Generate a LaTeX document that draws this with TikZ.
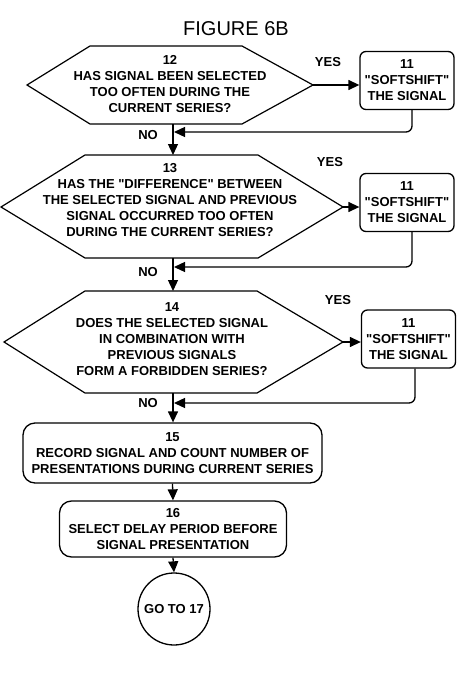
\documentclass[tikz,border=0pt]{standalone}
\usepackage{fontspec}
\setmainfont{Liberation Sans}[Ligatures=TeXOff]
\usetikzlibrary{arrows.meta}
\begin{document}
\begin{tikzpicture}[x=1pt,y=-1pt,
  line width=1.3pt,
  txt/.style={font=\fontsize{13}{16}\selectfont\bfseries, align=center, inner sep=0pt},
  lbl/.style={font=\fontsize{13}{16}\selectfont\bfseries, inner sep=0pt},
  hexline/.style={draw, line width=1.2pt, line join=miter},
  softbox/.style={draw, rounded corners=6pt, minimum width=94pt, minimum height=58pt, inner sep=0pt,
     font=\fontsize{13}{16}\selectfont\bfseries, align=center},
  procbox/.style={draw, rounded corners=12pt, inner sep=0pt,
     font=\fontsize{13}{16}\selectfont\bfseries, align=center},
  flow/.style={-{Triangle[length=11pt,width=10pt]}},
  ret/.style={-{Triangle[length=11pt,width=10pt]}, rounded corners=6pt}]
\useasboundingbox (0,0) rectangle (474,693);
\fill[white] (0,0) rectangle (474,693);

% title
\node[font=\fontsize{20}{24}\selectfont, inner sep=0pt] (title) at (236,28.5) {FIGURE 6B};

% hexagon 12
\coordinate (h12L) at (27,85);
\coordinate (h12TL) at (90,46);
\coordinate (h12TR) at (242,46);
\coordinate (h12R) at (313,85);
\coordinate (h12BR) at (242,124);
\coordinate (h12BL) at (90,124);
\coordinate (h12B) at (173,124);
\draw[hexline] (h12L)--(h12TL)--(h12TR)--(h12R)--(h12BR)--(h12BL)--cycle;
\node[txt] (t12) at (170,84.5) {12\\HAS SIGNAL BEEN SELECTED\\TOO OFTEN DURING THE\\CURRENT SERIES?};

% hexagon 13
\coordinate (h13L) at (1,207);
\coordinate (h13TL) at (85,155);
\coordinate (h13TR) at (258,155);
\coordinate (h13R) at (343,207);
\coordinate (h13BR) at (258,258);
\coordinate (h13BL) at (85,258);
\coordinate (h13T) at (173,155);
\coordinate (h13B) at (173,258);
\draw[hexline] (h13L)--(h13TL)--(h13TR)--(h13R)--(h13BR)--(h13BL)--cycle;
\node[txt] (t13) at (170,200) {13\\HAS THE "DIFFERENCE" BETWEEN\\THE SELECTED SIGNAL AND PREVIOUS\\SIGNAL OCCURRED TOO OFTEN\\DURING THE CURRENT SERIES?};

% hexagon 14
\coordinate (h14L) at (4,342);
\coordinate (h14TL) at (85,291);
\coordinate (h14TR) at (257,291);
\coordinate (h14R) at (343,342);
\coordinate (h14BR) at (257,393);
\coordinate (h14BL) at (85,393);
\coordinate (h14T) at (173,291);
\coordinate (h14B) at (173,393);
\draw[hexline] (h14L)--(h14TL)--(h14TR)--(h14R)--(h14BR)--(h14BL)--cycle;
\node[txt] (t14) at (172,339) {14\\DOES THE SELECTED SIGNAL\\IN COMBINATION WITH\\PREVIOUS SIGNALS\\FORM A FORBIDDEN SERIES?};

% softshift boxes
\node[softbox] (s1) at (407,80.5) {11\\"SOFTSHIFT"\\THE SIGNAL};
\node[softbox] (s2) at (407,202.5) {11\\"SOFTSHIFT"\\THE SIGNAL};
\node[softbox] (s3) at (408.5,339) {11\\"SOFTSHIFT"\\THE SIGNAL};

% process boxes
\node[procbox, minimum width=299pt, minimum height=60pt] (p15) at (172.5,453) {15\\RECORD SIGNAL AND COUNT NUMBER OF\\PRESENTATIONS DURING CURRENT SERIES};
\node[procbox, minimum width=227pt, minimum height=56pt] (p16) at (173,529) {16\\SELECT DELAY PERIOD BEFORE\\SIGNAL PRESENTATION};
\node[draw, circle, minimum size=72pt, inner sep=0pt, font=\fontsize{13}{16}\selectfont\bfseries] (goto) at (174,609) {GO TO 17};

% labels
\node[lbl] (yes1) at (328,62) {YES};
\node[lbl] (yes2) at (330,162) {YES};
\node[lbl] (yes3) at (338,300) {YES};
\node[lbl] (no1) at (148,135) {NO};
\node[lbl] (no2) at (148,272) {NO};
\node[lbl] (no3) at (148,403) {NO};

% yes arrows
\draw[flow] (h12R) -- (h12R -| s1.west);
\draw[flow] (h13R) -- (h13R -| s2.west);
\draw[flow] (h14R) -- (h14R -| s3.west);

% return lines
\coordinate (j1) at (174,132);
\coordinate (j2) at (174,267);
\coordinate (j3) at (174,403);
\draw[ret] ([xshift=5pt]s1.south) |- (j1);
\draw[ret] ([xshift=5pt]s2.south) |- (j2);
\draw[ret] ([xshift=6.5pt]s3.south) |- (j3);

% spine
\draw[flow] (h12B) -- (h13T);
\draw[flow] (h13B) -- (h14T);
\draw[flow] (h14B) -- (h14B |- p15.north);
\draw[flow] (p15.south) -- (p16.north);
\draw[flow] (p16.south) -- (goto.north);
\end{tikzpicture}
\end{document}
